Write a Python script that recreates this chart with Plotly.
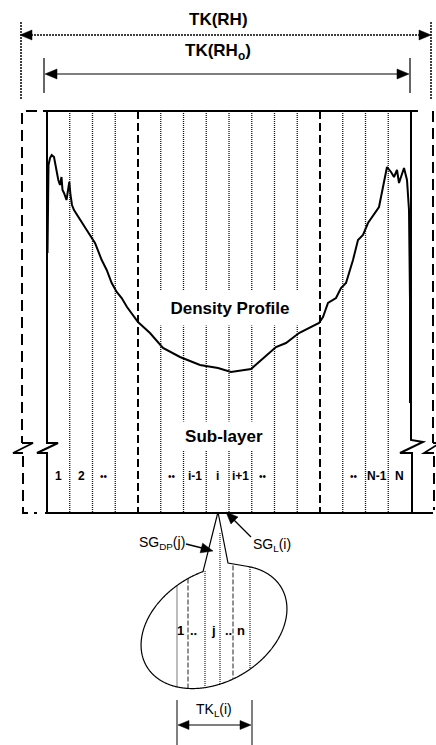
import numpy as np
import plotly.graph_objects as go

# ---------------- data ----------------
# density profile across the board thickness (diagram units: x = position, y = drawing depth)
profile_x = [47.5, 48.0, 48.5, 50.0, 51.7, 54.0, 56.0, 58.3, 60.0, 61.5, 62.5, 64.0, 66.5, 68.0,
             69.3, 70.5, 72.0, 74.0, 78.0, 86.7, 95.0, 101.7, 106.7, 111.7, 116.7, 121.7, 127.0,
             138.0, 150.0, 163.0, 180.0, 200.0, 218.0, 231.0, 251.0, 263.0, 276.0, 286.0, 299.0,
             319.0, 323.0, 328.0, 336.0, 341.0, 346.0, 353.0, 358.0, 363.0, 368.0, 379.0, 384.0,
             387.0, 391.0, 394.0, 397.0, 399.0, 404.0, 407.0, 409.0, 409.5, 410.0, 410.0]
profile_y = [253, 200, 165, 158, 155, 157, 168, 180, 185, 177, 190, 193, 200, 190,
             182, 195, 205, 210, 216, 230, 243, 260, 270, 283, 292, 298, 307,
             322, 333, 348, 357, 365, 368, 372, 369, 358, 347, 343, 333,
             323, 317, 303, 298, 288, 283, 260, 240, 235, 223, 207, 183,
             167, 172, 177, 170, 183, 168, 180, 210, 253, 300, 403]

n_sublayers = 16
dashed_boundaries = [4, 12]
sublayer_labels = ["1", "2", "••", "••", "i-1", "i", "i+1", "••", "••", "N-1", "N"]
sublayer_label_index = [0, 1, 2, 5, 6, 7, 8, 9, 13, 14, 15]

inner_labels = ["1", "..", "j", "..", "n"]
inner_label_x = [180, 193, 213, 228, 241]
inner_line_x = [177, 188, 205, 220, 233, 250]
inner_line_style = ["dot", "dash", "dot", "dot", "dash", "dot"]

# ---------------- geometry of the drawing ----------------
W, H = 436, 745
X0, X1 = 47, 411          # board (solid) edges
TOP, BOT = 111, 513
FONT = "Liberation Sans, Arial, sans-serif"
DOT = "1px,1px"

shapes = []
annotations = []


def line(x0, y0, x1, y1, width=1.0, dash="solid", color="black"):
    shapes.append(dict(type="line", xref="x", yref="y", x0=x0, y0=y0, x1=x1, y1=y1,
                       line=dict(color=color, width=width, dash=dash)))


def poly(pts, width=1.0, dash="solid", closed=False, fill=None, color="black"):
    d = "M " + " L ".join(f"{x:.2f},{y:.2f}" for x, y in pts)
    if closed:
        d += " Z"
    s = dict(type="path", xref="x", yref="y", path=d,
             line=dict(color=color, width=width, dash=dash))
    if fill:
        s["fillcolor"] = fill
    shapes.append(s)


def head(tip, frm, L=11.0, hw=4.5):
    tx, ty = tip
    fx, fy = frm
    dx, dy = tx - fx, ty - fy
    n = (dx * dx + dy * dy) ** 0.5
    dx, dy = dx / n, dy / n
    bx, by = tx - dx * L, ty - dy * L
    px, py = -dy, dx
    poly([(tx, ty), (bx + px * hw, by + py * hw), (bx - px * hw, by - py * hw)],
         width=0.5, closed=True, fill="black")


def text(x, y, t, size=12, bold=True, bg=None, w=None, h=None, xanchor="center"):
    a = dict(x=x, y=y, xref="x", yref="y", text=(f"<b>{t}</b>" if bold else t),
             showarrow=False, font=dict(family=FONT, size=size, color="black"),
             xanchor=xanchor, yanchor="middle", borderpad=0)
    if bg:
        a["bgcolor"] = bg
    if w:
        a["width"] = w
    if h:
        a["height"] = h
    annotations.append(a)


# ---------- top dimension lines ----------
line(21, 22, 21, 100, width=1.5, dash="2px,1px")
line(431, 22, 431, 100, width=1.5, dash="2px,1px")
line(28, 35, 424, 35, width=1.5, dash="2px,1px")
head((20, 35), (40, 35), L=12, hw=5)
head((431, 35), (410, 35), L=12, hw=5)
text(218, 19, "TK(RH)", size=17)

line(44, 58, 44, 93, width=1.2)
line(410, 58, 410, 93, width=1.2)
line(52, 74, 402, 74, width=1.2)
head((45, 74), (70, 74), L=12, hw=5)
head((409, 74), (380, 74), L=12, hw=5)
text(218, 52, "TK(RH<sub>o</sub>)", size=17)

# ---------- outer dashed frame ----------
OD = "11px,6px"
poly([(37, TOP), (22, TOP), (22, 443)], width=2, dash=OD)
poly([(22, 443), (33, 443), (13, 453), (23, 453)], width=1.8)
poly([(23, 456), (23, BOT), (37, BOT)], width=2, dash=OD)
line(433, TOP, 433, 443, width=2, dash=OD)
poly([(433, 443), (440, 443), (424, 453), (434, 453)], width=1.8)
line(434, 456, 434, 510, width=2, dash=OD)

# ---------- board box ----------
line(43, TOP, 418, TOP, width=2)
line(45, BOT, 433, BOT, width=2)
poly([(X0, TOP), (X0, 443), (58, 443), (37, 453), (X0, 453), (X0, BOT)], width=2)
poly([(X1, TOP), (X1, 440), (423, 442), (400, 453), (412, 453), (412, BOT)], width=2)

step = (X1 - X0) / n_sublayers
for k in range(1, n_sublayers):
    xb = X0 + k * step
    if k in dashed_boundaries:
        line(xb, TOP, xb, BOT, width=2, dash="8px,4px")
    else:
        line(xb, TOP, xb, BOT, width=1.3, dash=DOT, color="#111")

for lab, k in zip(sublayer_labels, sublayer_label_index):
    xc = X0 + (k + 0.5) * step
    if "•" in lab:
        text(xc, 476, lab, size=10, bold=False)
    else:
        text(xc, 476, lab, size=12)

text(230, 308, "Density Profile", size=17, bg="white", w=140, h=34)
text(224, 436, "Sub-layer", size=17, bg="white", w=84, h=28)

# ---------- callout ----------
cx, cy, ea, eb, th = 214.0, 627.0, 78.0, 55.0, np.radians(30)
t = np.linspace(0, 2 * np.pi, 721)
ex = cx + ea * np.cos(t) * np.cos(th) - eb * np.sin(t) * np.sin(th)
ey = cy - (ea * np.cos(t) * np.sin(th) + eb * np.sin(t) * np.cos(th))
ang = np.degrees(np.arctan2(ey - cy, ex - cx))
a2 = (ang + 61.0) % 360.0
keep = a2 <= 320.0
order = np.argsort(a2[keep])
arc = list(zip(ex[keep][order], ey[keep][order]))
tip = (218, 512)
poly([tip, (228, 563)] + arc + [tip], width=1.2)


def ell_y(x):
    dx = x - cx
    c, s = np.cos(th), np.sin(th)
    A = s * s / ea ** 2 + c * c / eb ** 2
    B = 2 * dx * c * s / ea ** 2 - 2 * dx * s * c / eb ** 2
    C = dx * dx * c * c / ea ** 2 + dx * dx * s * s / eb ** 2 - 1
    disc = np.sqrt(B * B - 4 * A * C)
    u1, u2 = (-B + disc) / (2 * A), (-B - disc) / (2 * A)
    return cy - u1, cy - u2   # top, bottom


for xl, st in zip(inner_line_x, inner_line_style):
    ytop, ybot = ell_y(xl)
    if xl == 205:
        ytop = 571
    if xl == 220:
        ytop = 533
    if st == "dash":
        line(xl, ytop, xl, ybot, width=1, dash="5px,2px", color="#222")
    else:
        line(xl, ytop, xl, ybot, width=1.2, dash=DOT, color="#222")

for lab, xl in zip(inner_labels, inner_label_x):
    text(xl, 630, lab, size=13)

# arrows for SG labels
line(186, 544, 204, 548.5, width=1.3)
head((213, 551), (186, 544), L=12, hw=5)
text(162, 543, "SG<sub>DP</sub>(j)", size=14, bold=False)
line(251, 537, 233, 519, width=1.3)
head((226, 512), (251, 537), L=12, hw=5)
text(272, 545, "SG<sub>L</sub>(i)", size=14, bold=False)

# bottom dimension TK_L(i)
line(177, 700, 177, 745, width=1)
line(252, 700, 252, 745, width=1)
line(186, 725, 243, 725, width=1.2)
head((178, 725), (200, 725), L=11, hw=4.5)
head((251, 725), (230, 725), L=11, hw=4.5)
text(214, 710, "TK<sub>L</sub>(i)", size=14, bold=False)

# ---------------- figure ----------------
fig = go.Figure()
fig.add_trace(go.Scatter(x=profile_x, y=profile_y, mode="lines",
                         line=dict(color="black", width=2), hoverinfo="skip",
                         showlegend=False))
fig.update_layout(
    width=W, height=H, autosize=False,
    margin=dict(l=0, r=0, t=0, b=0),
    paper_bgcolor="white", plot_bgcolor="white",
    xaxis=dict(range=[0, W], visible=False, fixedrange=True),
    yaxis=dict(range=[H, 0], visible=False, fixedrange=True),
    shapes=shapes, annotations=annotations, showlegend=False,
)
fig.write_html("out.html", config={"displayModeBar": False},
               post_script="document.body.style.margin='0';")
